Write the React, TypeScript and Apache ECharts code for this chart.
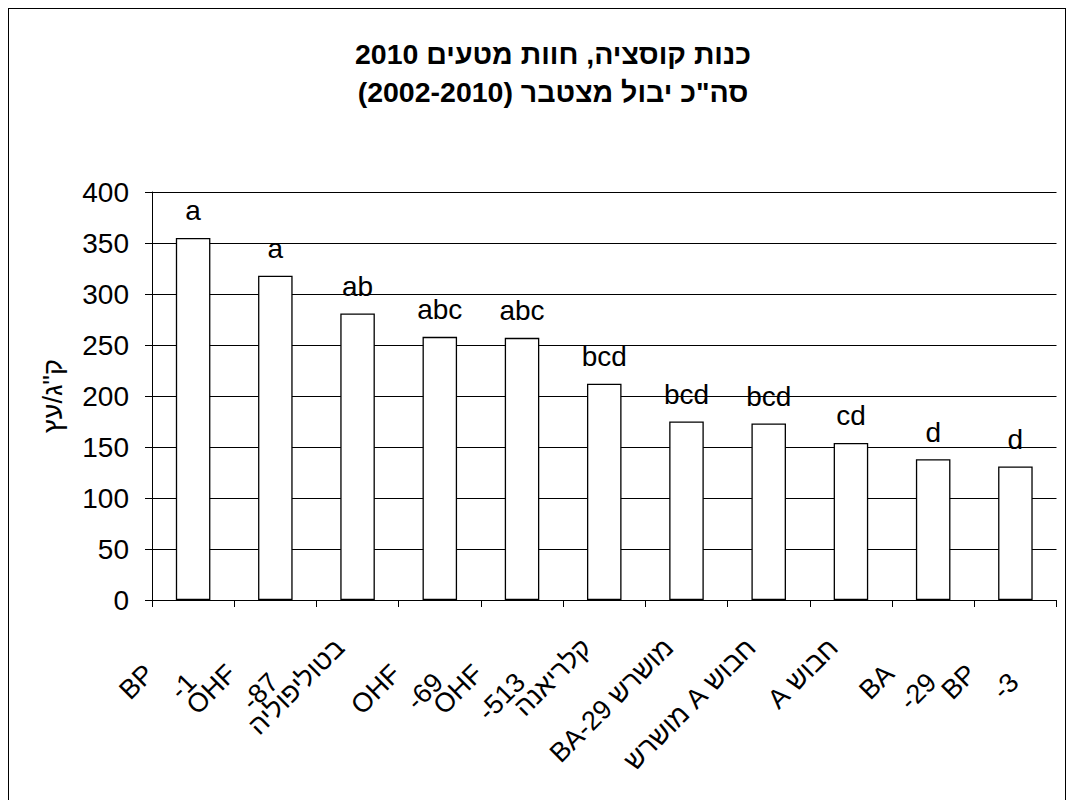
import React, { useEffect, useRef } from "react";
import * as echarts from "echarts";

const titleLines = ["כנות קוסציה, חוות מטעים 2010", "סה\"כ יבול מצטבר (2002-2010)"];
const yAxisName = "ק\"ג/עץ";
const categories = [
  "BP\n-1",
  "OHF\n-87",
  "בטוליפוליה",
  "OHF\n-69",
  "OHF\n-513",
  "קלריאנה",
  "BA-29 מושרש",
  "חבוש A מושרש",
  "חבוש A",
  "BA\n-29",
  "BP\n-3",
];
const values = [355, 318, 281, 258, 257, 212, 175, 173, 154, 138, 131];
const letters = ["a", "a", "ab", "abc", "abc", "bcd", "bcd", "bcd", "cd", "d", "d"];
const yTicks = { min: 0, max: 400, interval: 50 };

const FONT = "'Liberation Sans', Arial, sans-serif";
const RLE = "\u202B";
const PDF = "\u202C";
const isHeb = (s: string) => /^[\u0590-\u05FF]/.test(s);
const rtl = (s: string) => (isHeb(s) ? RLE + s + PDF : s);

export default function App() {
  const ref = useRef<HTMLDivElement>(null);
  useEffect(() => {
    if (!ref.current) return;
    const chart = echarts.init(ref.current, undefined, { renderer: "svg" });
    chart.setOption({
      animation: false,
      backgroundColor: "#fff",
      title: {
        text: titleLines.map((t) => RLE + t + PDF).join("\n"),
        left: 539,
        top: 21,
        textAlign: "center",
        textStyle: {
          fontFamily: FONT,
          fontSize: 28.5,
          fontWeight: "bold",
          color: "#000",
          lineHeight: 38,
        },
      },
      grid: { left: 143, right: 3, top: 183, bottom: 207, containLabel: false },
      xAxis: {
        type: "category",
        data: categories,
        boundaryGap: true,
        axisLine: { show: true, lineStyle: { color: "#000", width: 1 } },
        axisTick: { show: true, length: 7, alignWithLabel: false, lineStyle: { color: "#000" } },
        axisLabel: {
          interval: 0,
          rotate: 45,
          margin: 0,
          verticalAlign: "top",
          formatter: (v: string) => {
            const parts = v.split("\n");
            if (parts.length === 1) return "{s|" + rtl(parts[0]) + "}";
            return "{a|" + rtl(parts[0]) + "}\n{b|" + rtl(parts[1]) + "}";
          },
          rich: {
            s: { fontFamily: FONT, fontSize: 27, color: "#000", lineHeight: 36, padding: [0, 43, 0, 0] },
            a: { fontFamily: FONT, fontSize: 27, color: "#000", lineHeight: 36, padding: [0, 80, 0, 0] },
            b: { fontFamily: FONT, fontSize: 27, color: "#000", lineHeight: 36, padding: [0, 56, 0, 0] },
          },
        },
        splitLine: { show: false },
      },
      yAxis: {
        type: "value",
        min: yTicks.min,
        max: yTicks.max,
        interval: yTicks.interval,
        name: yAxisName,
        nameLocation: "middle",
        nameRotate: 90,
        nameGap: 86,
        nameTextStyle: { fontFamily: FONT, fontSize: 27, color: "#000" },
        axisLine: { show: true, lineStyle: { color: "#000", width: 1 } },
        axisTick: { show: true, length: 7, inside: false, lineStyle: { color: "#000" } },
        axisLabel: { fontFamily: FONT, fontSize: 28, color: "#000", margin: 23 },
        splitLine: { show: true, lineStyle: { color: "#000", width: 1 } },
      },
      series: [
        {
          type: "bar",
          data: values,
          barWidth: "42%",
          itemStyle: { color: "#fff", borderColor: "#000", borderWidth: 1.3 },
          label: {
            show: true,
            position: "top",
            distance: 13,
            fontFamily: FONT,
            fontSize: 28,
            color: "#000",
            formatter: (p: any) => letters[p.dataIndex],
          },
        },
      ],
    });
    return () => chart.dispose();
  }, []);
  return (
    <div
      style={{
        width: 1058,
        height: 800,
        border: "1px solid #000",
        boxSizing: "border-box",
        background: "#fff",
      }}
    >
      <div ref={ref} style={{ width: 1056, height: 798 }} />
    </div>
  );
}
